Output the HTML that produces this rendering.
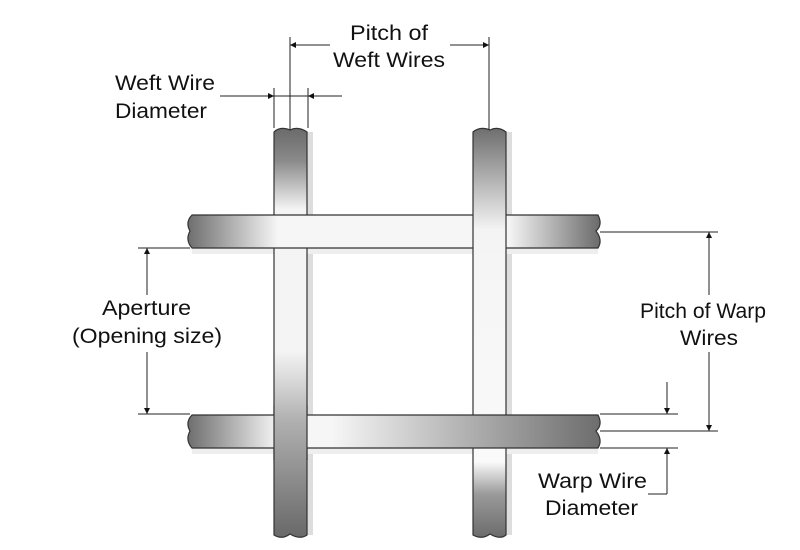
<!DOCTYPE html>
<html><head><meta charset="utf-8"><style>
html,body{margin:0;padding:0;background:#fff;}
svg{display:block;}
text{font-family:"Liberation Sans",sans-serif;font-size:21px;fill:#111;}
</style></head><body>
<svg width="800" height="550" viewBox="0 0 800 550" xmlns="http://www.w3.org/2000/svg">
<defs>
<linearGradient id="v1" x1="0" y1="128" x2="0" y2="535" gradientUnits="userSpaceOnUse">
<stop offset="0" stop-color="#6a6a6a"/><stop offset="0.08" stop-color="#8a8a8a"/><stop offset="0.2" stop-color="#f4f4f4"/><stop offset="0.55" stop-color="#f4f4f4"/><stop offset="0.72" stop-color="#b0b0b0"/><stop offset="1" stop-color="#6a6a6a"/></linearGradient>
<linearGradient id="v2" x1="0" y1="128" x2="0" y2="535" gradientUnits="userSpaceOnUse">
<stop offset="0" stop-color="#6e6e6e"/><stop offset="0.25" stop-color="#f4f4f4"/><stop offset="0.82" stop-color="#fafafa"/><stop offset="0.9" stop-color="#9a9a9a"/><stop offset="1" stop-color="#6e6e6e"/></linearGradient>
<linearGradient id="h1" x1="188" y1="0" x2="598" y2="0" gradientUnits="userSpaceOnUse">
<stop offset="0" stop-color="#6e6e6e"/><stop offset="0.22" stop-color="#f6f6f6"/><stop offset="0.78" stop-color="#f6f6f6"/><stop offset="1" stop-color="#6e6e6e"/></linearGradient>
<linearGradient id="h2" x1="188" y1="0" x2="598" y2="0" gradientUnits="userSpaceOnUse">
<stop offset="0" stop-color="#6e6e6e"/><stop offset="0.22" stop-color="#f6f6f6"/><stop offset="0.35" stop-color="#f6f6f6"/><stop offset="1" stop-color="#6e6e6e"/></linearGradient>
<marker id="a" viewBox="0 0 10 10" refX="10" refY="5" markerWidth="12" markerHeight="6" orient="auto" markerUnits="userSpaceOnUse"><path d="M0,0 L10,5 L0,10 z" fill="#111"/></marker>
</defs>
<g stroke="#333" stroke-width="1.2">
<rect x="307" y="132" width="6" height="403" fill="#ddd" stroke="none"/>
<rect x="506" y="132" width="6" height="403" fill="#ddd" stroke="none"/>
<rect x="192" y="248" width="406" height="6" fill="#eee" stroke="none"/>
<rect x="192" y="448" width="406" height="6" fill="#eee" stroke="none"/>
<path d="M274,132 Q280,126 290,130 Q298,126 307,132 L307,535 Q300,540 290,534 Q282,540 274,535 Z" fill="url(#v1)"/>
<path d="M192,215 L598,215 Q603,225 596,231 Q603,240 598,248 L192,248 Q185,240 190,231 Q185,222 192,215 Z" fill="url(#h1)"/>
<path d="M473,132 Q480,126 490,130 Q498,126 506,132 L506,535 Q500,540 490,534 Q482,540 473,535 Z" fill="url(#v2)"/>
<path d="M192,415 L598,415 Q603,425 596,431 Q603,440 598,448 L192,448 Q185,440 190,431 Q185,422 192,415 Z" fill="url(#h2)"/>
<rect x="274" y="405" width="33" height="53" fill="url(#v1)" stroke="none"/>
<line x1="274" y1="405" x2="274" y2="460"/><line x1="307" y1="405" x2="307" y2="460"/>
</g>
<g stroke="#222" stroke-width="1" fill="none">
<line x1="290" y1="37" x2="290" y2="130"/><line x1="489" y1="37" x2="489" y2="130"/>
<line x1="330" y1="45" x2="290" y2="45" marker-end="url(#a)"/>
<line x1="450" y1="45" x2="489" y2="45" marker-end="url(#a)"/>
<line x1="274" y1="88" x2="274" y2="128"/><line x1="308" y1="88" x2="308" y2="128"/>
<line x1="220" y1="96" x2="274" y2="96" marker-end="url(#a)"/>
<line x1="342" y1="96" x2="308" y2="96" marker-end="url(#a)"/>
<line x1="274" y1="96" x2="308" y2="96"/>
<line x1="138" y1="248" x2="190" y2="248"/><line x1="138" y1="414" x2="190" y2="414"/>
<line x1="147" y1="295" x2="147" y2="248" marker-end="url(#a)"/>
<line x1="147" y1="352" x2="147" y2="414" marker-end="url(#a)"/>
<line x1="600" y1="232" x2="718" y2="232"/><line x1="600" y1="431" x2="718" y2="431"/>
<line x1="709" y1="295" x2="709" y2="232" marker-end="url(#a)"/>
<line x1="709" y1="352" x2="709" y2="431" marker-end="url(#a)"/>
<line x1="600" y1="414" x2="678" y2="414"/><line x1="600" y1="448" x2="678" y2="448"/>
<line x1="667" y1="382" x2="667" y2="414" marker-end="url(#a)"/>
<line x1="667" y1="494" x2="667" y2="448" marker-end="url(#a)"/>
<line x1="667" y1="494" x2="648" y2="494"/>
</g>
<text x="350" y="40" textLength="78" lengthAdjust="spacingAndGlyphs">Pitch of</text>
<text x="333" y="67" textLength="112" lengthAdjust="spacingAndGlyphs">Weft Wires</text>
<text x="115" y="90" textLength="100" lengthAdjust="spacingAndGlyphs">Weft Wire</text>
<text x="115" y="118" textLength="92" lengthAdjust="spacingAndGlyphs">Diameter</text>
<text x="102" y="315" textLength="89" lengthAdjust="spacingAndGlyphs">Aperture</text>
<text x="72" y="343" textLength="150" lengthAdjust="spacingAndGlyphs">(Opening size)</text>
<text x="640" y="318" textLength="126" lengthAdjust="spacingAndGlyphs">Pitch of Warp</text>
<text x="680" y="345" textLength="58" lengthAdjust="spacingAndGlyphs">Wires</text>
<text x="538" y="488" textLength="109" lengthAdjust="spacingAndGlyphs">Warp Wire</text>
<text x="545" y="515" textLength="93" lengthAdjust="spacingAndGlyphs">Diameter</text>
</svg>
</body></html>
